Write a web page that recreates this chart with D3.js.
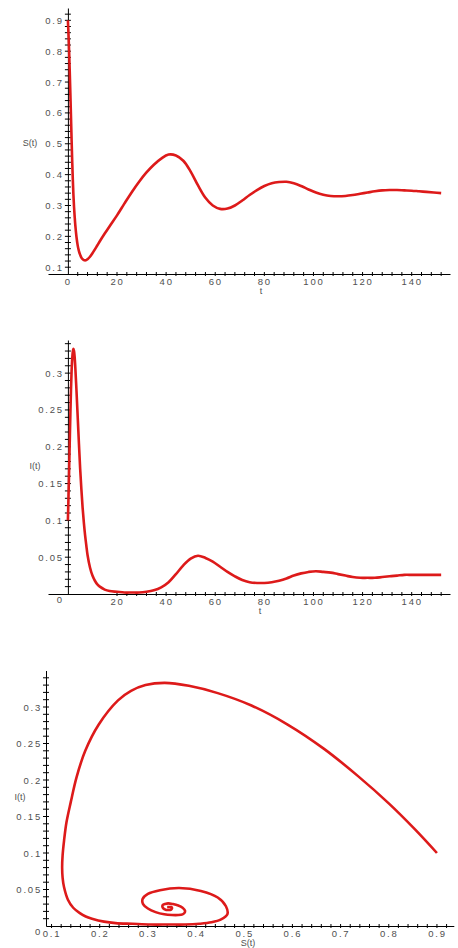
<!DOCTYPE html>
<html>
<head>
<meta charset="utf-8">
<script src="https://cdn.jsdelivr.net/npm/d3@7"></script>
<style>
  body { margin: 0; background: #fff; }
  svg { display: block; }
  .tick text { font-family: "Liberation Sans", Arial, sans-serif; font-size: 9.5px; fill: #505050; letter-spacing: 1.8px; }
  .lbl { font-family: "Liberation Sans", Arial, sans-serif; font-size: 9px; fill: #505050; }
</style>
</head>
<body>
<div id="chart"></div>
<script>
// time samples, S(t) and I(t)
const tVals = [0, 0.25, 0.5, 0.75, 1, 1.25, 1.5, 1.75, 2, 2.25, 2.5, 2.75, 3, 3.5, 4, 4.5, 5, 5.5, 6, 6.5, 7, 7.5, 8, 9, 10, 11, 12, 13, 15, 17,
  20, 23, 26, 29, 32, 35, 38, 41, 44, 47, 50, 53, 56, 59, 62, 65, 68, 71, 74, 77, 80, 83, 86, 89, 92, 95, 98,
  101, 104, 107, 110, 113, 116, 119, 122, 125, 128, 131, 134, 137, 140, 143, 146, 149, 152];
const sVals = [0.900, 0.855, 0.800, 0.735, 0.665, 0.590, 0.515, 0.445, 0.385, 0.335, 0.295, 0.265, 0.238, 0.198, 0.170, 0.152, 0.140, 0.131, 0.126, 0.123, 0.122, 0.123, 0.126, 0.134, 0.145, 0.158, 0.171, 0.184, 0.209, 0.233,
  0.268, 0.306, 0.343, 0.377, 0.407, 0.432, 0.452, 0.465, 0.462, 0.445, 0.410, 0.365, 0.325, 0.300, 0.289, 0.290, 0.300, 0.316, 0.334, 0.350, 0.363, 0.372, 0.376, 0.377, 0.372, 0.363, 0.352,
  0.342, 0.335, 0.331, 0.330, 0.331, 0.334, 0.338, 0.342, 0.346, 0.349, 0.350, 0.350, 0.349, 0.348, 0.346, 0.344, 0.342, 0.340];
const iVals = [0.100, 0.132, 0.168, 0.206, 0.243, 0.276, 0.302, 0.319, 0.329, 0.333, 0.330, 0.322, 0.309, 0.276, 0.240, 0.204, 0.170, 0.142, 0.117, 0.097, 0.080, 0.066, 0.053, 0.036, 0.025, 0.018, 0.013, 0.010, 0.006, 0.004,
  0.003, 0.002, 0.002, 0.002, 0.003, 0.005, 0.009, 0.016, 0.027, 0.039, 0.048, 0.052, 0.049, 0.044, 0.037, 0.030, 0.024, 0.019, 0.016, 0.015, 0.015, 0.016, 0.018, 0.021, 0.025, 0.028, 0.030,
  0.031, 0.030, 0.029, 0.027, 0.025, 0.023, 0.022, 0.022, 0.022, 0.023, 0.024, 0.025, 0.026, 0.026, 0.026, 0.026, 0.026, 0.026];

const timeTicks = [0, 20, 40, 60, 80, 100, 120, 140];
const sTicks = [0.1, 0.2, 0.3, 0.4, 0.5, 0.6, 0.7, 0.8, 0.9];
const iTicks = [0, 0.05, 0.1, 0.15, 0.2, 0.25, 0.3];

const points = tVals.map((t, i) => ({t: t, s: sVals[i], v: iVals[i]}));

const svg = d3.select("#chart").append("svg")
    .attr("width", 458)
    .attr("height", 948);

const red = "#dd1a1a";

function panel(cfg) {
  const g = svg.append("g");
  const x = d3.scaleLinear().domain(cfg.xDomain).range(cfg.xRange);
  const y = d3.scaleLinear().domain(cfg.yDomain).range(cfg.yRange);
  const x0 = x(cfg.yAxisAt), y0 = y(cfg.yDomain[0]);

  // x axis
  const xa = g.append("g")
      .attr("transform", `translate(0,${y0})`)
      .call(d3.axisBottom(x).tickValues(cfg.xTicks).tickSize(0).tickPadding(4)
        .tickFormat(d => String(d)));
  xa.select(".domain").attr("stroke", "#000");
  // y axis
  const ya = g.append("g")
      .attr("transform", `translate(${x0},0)`)
      .call(d3.axisLeft(y).tickValues(cfg.yTicks).tickSize(0).tickPadding(4)
        .tickFormat(d => String(d)));
  ya.select(".domain").attr("stroke", "#000");
  ya.selectAll(".tick").filter(d => d === 0).select("text").attr("dy", "0.9em");

  // tick marks crossing the axes (Maple style)
  const xMinor = d3.range(cfg.xTicks[0], cfg.xDomain[1], cfg.xMinor)
      .filter(v => x(v) > x0 + 1);
  g.append("g").selectAll("line").data(xMinor).join("line")
      .attr("x1", d => x(d)).attr("x2", d => x(d))
      .attr("y1", y0 - 2).attr("y2", y0 + 2)
      .attr("stroke", "#000");
  const yMinor = d3.range(cfg.yTicks[0], cfg.yDomain[1], cfg.yMinor)
      .filter(v => y(v) < y0 - 1);
  g.append("g").selectAll("line").data(yMinor).join("line")
      .attr("x1", x0 - 3).attr("x2", x0 + 3)
      .attr("y1", d => y(d)).attr("y2", d => y(d))
      .attr("stroke", "#000");

  const line = d3.line()
      .x(d => x(cfg.xv(d)))
      .y(d => y(cfg.yv(d)))
      .curve(d3.curveCatmullRom.alpha(0.5));
  g.append("path")
      .datum(points)
      .attr("fill", "none")
      .attr("stroke", red)
      .attr("stroke-width", 2.6)
      .attr("stroke-linejoin", "round")
      .attr("d", line);

  g.append("text").attr("class", "lbl")
      .attr("x", cfg.xLabel[1]).attr("y", cfg.xLabel[2])
      .attr("text-anchor", "middle").text(cfg.xLabel[0]);
  g.append("text").attr("class", "lbl")
      .attr("x", cfg.yLabel[1]).attr("y", cfg.yLabel[2])
      .attr("text-anchor", "middle").text(cfg.yLabel[0]);
}

// S(t) against t
panel({
  xDomain: [-8.1, 155.6], xRange: [48, 450], yAxisAt: 0,
  yDomain: [0.078, 0.94], yRange: [274, 8],
  xTicks: timeTicks, yTicks: sTicks, xMinor: 4, yMinor: 0.02,
  xv: d => d.t, yv: d => d.s,
  xLabel: ["t", 261, 294], yLabel: ["S(t)", 30, 146]
});

// I(t) against t
panel({
  xDomain: [-8.1, 155.6], xRange: [48, 450], yAxisAt: 0,
  yDomain: [0, 0.345], yRange: [594, 340],
  xTicks: timeTicks.slice(1), yTicks: iTicks, xMinor: 4, yMinor: 0.01,
  xv: d => d.t, yv: d => d.v,
  xLabel: ["t", 260, 614], yLabel: ["I(t)", 35, 469]
});

// phase plane I against S
panel({
  xDomain: [0.0885, 0.935], xRange: [46, 453.8], yAxisAt: 0.0885,
  yDomain: [0, 0.35], yRange: [926, 670.5],
  xTicks: sTicks, yTicks: iTicks, xMinor: 0.02, yMinor: 0.01,
  xv: d => d.s, yv: d => d.v,
  xLabel: ["S(t)", 248, 946], yLabel: ["I(t)", 20, 800]
});
</script>
</body>
</html>
